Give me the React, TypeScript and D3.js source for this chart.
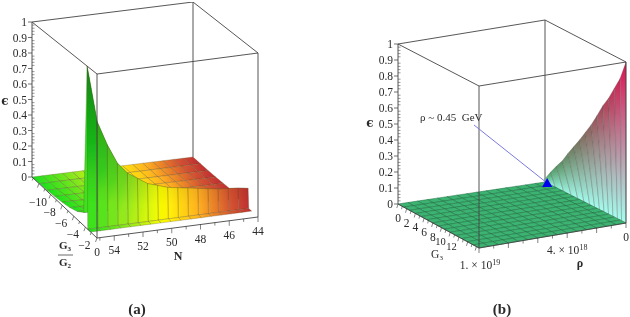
import React from "react";
import * as d3 from "d3";

// panel (a)
const epsTicks = [0, 0.1, 0.2, 0.3, 0.4, 0.5, 0.6, 0.7, 0.8, 0.9, 1];
const nTicks = [54, 52, 50, 48, 46, 44];
const gTicks = [-10, -8, -6, -4, -2, 0];
const nGrid = [55.2, 54.5, 53.8, 53.1, 52.4, 51.7, 51, 50.3, 49.6, 48.9, 48.2, 47.5, 46.8, 46.1, 45.4, 44.7, 44];
const wallEps = [1, 0.65, 0.5, 0.38, 0.31, 0.27, 0.23, 0.21, 0.19, 0.18, 0.17, 0.16, 0.15, 0.14, 0.135, 0.13, 0.12];
const floorFade = [1, 0.97, 0.93, 0.9, 0.87, 0.84, 0.8, 0.77, 0.74, 0.71, 0.68, 0.65, 0.62, 0.58, 0.55, 0.52, 0.5];
const flatRows = [-11.2, -9.9, -8.6, -7.3, -6, -4.7, -3.4, -2.3];
const flatLift = [0, 0.003, 0.006, 0.012, 0.02, 0.03, 0.05, 0.08];
const wallRow = -1.7;
const wallFoot = -1.6;
const stripEdge = -1.1;
const nColorStops = [55.2, 52.5, 50, 47.5, 45.5, 44];
const nColors = ["#1fe01f", "#8fe81f", "#ffff00", "#ffb020", "#d85a30", "#bf3030"];

// panel (b)
const g3Ticks = [0, 2, 4, 6, 8, 10, 12];
const g3Grid = [0, 1.33, 2.66, 3.99, 5.31, 6.64, 7.97, 9.3, 10.63, 11.96, 13.29, 14.61, 15.94, 17.27, 18.6];
const rhoGrid = [0, 0.67, 1.33, 2, 2.67, 3.33, 4, 4.67, 5.33, 6, 6.67, 7.33, 8, 8.67, 9.33, 10];
const edgeEps = [0.02, 0.08, 0.135, 0.185, 0.25, 0.31, 0.37, 0.435, 0.5, 0.575, 0.655, 0.72, 0.8, 0.88, 1];
const stripLean = [0, 1, 1.6, 2, 2.2, 2.3, 2.3, 2.1, 1.9, 1.6, 1.3, 1, 0.7, 0.3, 0];

type Pt = [number, number];
type Box = { near: Pt[]; far: Pt[] };

// corners in order: x0y0, x1y0, x1y1, x0y1, bottom in near, top in far
const boxA: Box = {
  near: [[32, 177], [97, 238], [258, 217], [193, 157]],
  far: [[32, 22], [97, 74], [258, 53], [193, 2]],
};
const boxB: Box = {
  near: [[398, 204], [479, 248], [626, 223], [545, 182]],
  far: [[398, 44], [479, 86], [626, 62], [545, 20]],
};

const lerp = (a: Pt, b: Pt, t: number): Pt => [a[0] + (b[0] - a[0]) * t, a[1] + (b[1] - a[1]) * t];

function projector(box: Box, sx: any, sy: any) {
  const sz = d3.scaleLinear().domain([0, 1]).range([0, 1]);
  return (x: number, y: number, z: number): Pt => {
    const u = sx(x), v = sy(y), w = sz(z);
    const bot = lerp(lerp(box.near[0], box.near[1], u), lerp(box.near[3], box.near[2], u), v);
    const top = lerp(lerp(box.far[0], box.far[1], u), lerp(box.far[3], box.far[2], u), v);
    return lerp(bot, top, w);
  };
}

const poly = d3.line<Pt>().curve(d3.curveLinearClosed);
const open = d3.line<Pt>();

const pA = projector(boxA, d3.scaleLinear().domain([-11.2, 0]).range([0, 1]), d3.scaleLinear().domain([55.2, 44]).range([0, 1]));
const pB = projector(boxB, d3.scaleLinear().domain([0, 18.6]).range([0, 1]), d3.scaleLinear().domain([10, 0]).range([0, 1]));

const nColor = d3.scaleLinear<string>().domain(nColorStops).range(nColors);
const edgeColor = d3.scaleLinear<string>().domain([0, 1]).range(["#3aa860", "#e01050"]);

const serif = "'Liberation Serif', serif";
const ink = "#2a2a2a";

function Tick({ from, to, w = 0.7 }: { from: Pt; to: Pt; w?: number }) {
  return <line x1={from[0]} y1={from[1]} x2={to[0]} y2={to[1]} stroke="#333" strokeWidth={w} />;
}

function Label({ at, children, anchor = "middle", size = 11.5, weight = "normal", family = serif }: any) {
  return (
    <text x={at[0]} y={at[1]} textAnchor={anchor} fontSize={size} fontWeight={weight} fontFamily={family} fill={ink} dominantBaseline="central">
      {children}
    </text>
  );
}

function BoxFrame({ box, part }: { box: Box; part: "back" | "front" }) {
  const { near, far } = box;
  const segs: Pt[][] =
    part === "back"
      ? [[near[3], far[3]], [far[0], far[3]], [far[3], far[2]]]
      : [[far[0], far[1]], [far[1], far[2]], [near[1], far[1]], [near[2], far[2]], [near[0], far[0]], [near[0], near[1]], [near[1], near[2]]];
  return (
    <g fill="none" stroke="#444" strokeWidth={0.9}>
      {segs.map((s, i) => <path key={i} d={open(s) as string} />)}
    </g>
  );
}

function EpsAxis({ box, lx }: { box: Box; lx: number }) {
  const base = box.near[0];
  const top = box.far[0];
  const minor = d3.range(0, 51).map((i) => i / 50);
  return (
    <g>
      {minor.map((t, i) => {
        const p = lerp(base, top, t);
        return <Tick key={i} from={p} to={[p[0] + (i % 5 === 0 ? 0 : 2.5), p[1]]} w={0.5} />;
      })}
      {epsTicks.map((t) => {
        const p = lerp(base, top, t);
        return (
          <g key={t}>
            <Tick from={p} to={[p[0] - 4, p[1]]} />
            <Label at={[lx, p[1]]} anchor="end">{t}</Label>
          </g>
        );
      })}
    </g>
  );
}

function PanelA() {
  const rows = [...flatRows, wallRow, wallFoot, stripEdge];
  const height = (r: number, c: number) => {
    if (r < flatRows.length) return flatLift[r] * floorFade[c];
    if (r === flatRows.length) return wallEps[c];
    return 0;
  };
  const cells: { id: string; pts: Pt[]; from: Pt; to: Pt; a: number; b: number; wall: boolean }[] = [];
  for (let r = 0; r < rows.length - 1; r++) {
    for (let c = nGrid.length - 2; c >= 0; c--) {
      const p00 = pA(rows[r], nGrid[c], height(r, c));
      const p01 = pA(rows[r], nGrid[c + 1], height(r, c + 1));
      const p11 = pA(rows[r + 1], nGrid[c + 1], height(r + 1, c + 1));
      const p10 = pA(rows[r + 1], nGrid[c], height(r + 1, c));
      cells.push({
        id: `ca${r}-${c}`,
        pts: [p00, p01, p11, p10],
        from: lerp(p00, p10, 0.5),
        to: lerp(p01, p11, 0.5),
        a: nGrid[c],
        b: nGrid[c + 1],
        wall: r === flatRows.length,
      });
    }
  }
  const nMinor = d3.range(44, 56);
  const gMinor = d3.range(-11, 1);
  return (
    <g>
      <defs>
        {cells.map((s) => (
          <linearGradient key={s.id} id={s.id} gradientUnits="userSpaceOnUse" x1={s.from[0]} y1={s.from[1]} x2={s.to[0]} y2={s.to[1]}>
            <stop offset="0" stopColor={nColor(s.a)} />
            <stop offset="1" stopColor={nColor(s.b)} />
          </linearGradient>
        ))}
        <linearGradient id="wallShade" gradientUnits="userSpaceOnUse" x1="0" y1="66" x2="0" y2="205">
          <stop offset="0" stopColor="#000" stopOpacity="0.42" />
          <stop offset="1" stopColor="#000" stopOpacity="0" />
        </linearGradient>
      </defs>
      <BoxFrame box={boxA} part="back" />
      {cells.map((s) => (
        <g key={s.id}>
          <path d={poly(s.pts) as string} fill={`url(#${s.id})`} stroke="#5a4a20" strokeOpacity={0.55} strokeWidth={0.5} />
          {s.wall && <path d={poly(s.pts) as string} fill="url(#wallShade)" />}
        </g>
      ))}
      <BoxFrame box={boxA} part="front" />
      <EpsAxis box={boxA} lx={27} />
      {nMinor.map((n) => {
        const p = pA(0, n, 0);
        return <Tick key={n} from={p} to={[p[0], p[1] + (n % 2 === 0 ? 5 : 3)]} w={0.6} />;
      })}
      {nTicks.map((n) => {
        const p = pA(0, n, 0);
        return <Label key={n} at={[p[0], p[1] + 14]}>{n}</Label>;
      })}
      {gMinor.map((g) => {
        const p = pA(g, 55.2, 0);
        const k = g % 2 === 0 ? 1 : 0.6;
        return <Tick key={g} from={p} to={[p[0] - 1.5 * k, p[1] + 4 * k]} w={0.6} />;
      })}
      {gTicks.map((g) => {
        const p = pA(g, 55.2, 0);
        return <Label key={g} at={[p[0] + (g === 0 ? 0 : -1), p[1] + (g === 0 ? 14 : 18)]}>{g === 0 ? "0" : `\u2212${-g}`}</Label>;
      })}
      <Label at={[178, 256]} size={12} weight="bold">N</Label>
      <Label at={[5, 101]} size={12} weight="bold" family="'DejaVu Serif', serif">{"\u03f5"}</Label>
      <text x={65} y={249} textAnchor="middle" fontSize={11} fontWeight="bold" fontFamily={serif} fill={ink}>
        G<tspan fontSize={7} dy={2}>3</tspan>
      </text>
      <line x1={58} x2={73} y1={255} y2={255} stroke={ink} strokeWidth={0.7} />
      <text x={65} y={266} textAnchor="middle" fontSize={11} fontWeight="bold" fontFamily={serif} fill={ink}>
        G<tspan fontSize={7} dy={2}>2</tspan>
      </text>
      <Label at={[137, 309]} size={15} weight="bold">(a)</Label>
    </g>
  );
}

function PanelB() {
  const flat: { id: string; pts: Pt[] }[] = [];
  for (let i = 0; i < g3Grid.length - 1; i++) {
    for (let j = 0; j < rhoGrid.length - 1; j++) {
      flat.push({
        id: `f${i}-${j}`,
        pts: [
          pB(g3Grid[i], rhoGrid[j], 0),
          pB(g3Grid[i + 1], rhoGrid[j], 0),
          pB(g3Grid[i + 1], rhoGrid[j + 1], 0),
          pB(g3Grid[i], rhoGrid[j + 1], 0),
        ],
      });
    }
  }
  const strips = d3.range(g3Grid.length - 1).map((i) => {
    const foot0 = pB(g3Grid[i] + stripLean[i], 0, 0);
    const foot1 = pB(g3Grid[i + 1] + stripLean[i + 1], 0, 0);
    const top0 = pB(g3Grid[i], 0, edgeEps[i]);
    const top1 = pB(g3Grid[i + 1], 0, edgeEps[i + 1]);
    return { i, pts: [foot0, top0, top1, foot1] as Pt[], top: top1, foot: foot1, e: edgeEps[i + 1] };
  });
  // wedge under the first strip, so the base of the surface stays closed
  const heel: Pt[] = [pB(0, 0, 0), pB(g3Grid[0], 0, edgeEps[0]), pB(g3Grid[1] + stripLean[1], 0, 0)];
  const tip = pB(0.5, 0, 0);
  const g3Minor = d3.range(0, 19);
  const rhoMinor = d3.range(0, 11);
  return (
    <g>
      <defs>
        {strips.map((s) => (
          <linearGradient key={s.i} id={`w${s.i}`} gradientUnits="userSpaceOnUse" x1={s.foot[0]} y1={s.foot[1]} x2={s.top[0]} y2={s.top[1]}>
            <stop offset="0" stopColor="#a4fff0" />
            <stop offset="1" stopColor={edgeColor(s.e)} />
          </linearGradient>
        ))}
      </defs>
      <BoxFrame box={boxB} part="back" />
      <path d={poly(heel) as string} fill="#8fdcc0" />
      {strips.map((s) => (
        <path key={s.i} d={poly(s.pts) as string} fill={`url(#w${s.i})`} stroke="#555" strokeOpacity={0.5} strokeWidth={0.6} />
      ))}
      {flat.map((c) => (
        <path key={c.id} d={poly(c.pts) as string} fill="#3cb371" stroke="#1c6b40" strokeWidth={0.5} />
      ))}
      <BoxFrame box={boxB} part="front" />
      <EpsAxis box={boxB} lx={393} />
      {g3Minor.map((g) => {
        const p = pB(g, 10, 0);
        const k = g % 2 === 0 ? 1 : 0.7;
        return <Tick key={g} from={p} to={[p[0] - 1.2 * k, p[1] + 4 * k]} w={0.6} />;
      })}
      {g3Ticks.map((g) => {
        const p = pB(g, 10, 0);
        const nudge = g === 10 ? -1 : g === 12 ? 1.2 : 0;
        return <Label key={g} size={g >= 10 ? 10.5 : 11.5} at={[p[0] + nudge, p[1] + 14]}>{g}</Label>;
      })}
      {rhoMinor.map((r) => {
        const p = pB(18.6, r, 0);
        return <Tick key={r} from={p} to={[p[0], p[1] + (r % 2 === 0 ? 5 : 3)]} w={0.6} />;
      })}
      <text x={pB(18.6, 4, 0)[0]} y={pB(18.6, 4, 0)[1] + 21} textAnchor="middle" fontSize={11.5} fontFamily={serif} fill={ink}>
        4. × 10<tspan fontSize={8} dy={-4}>18</tspan>
      </text>
      <Label at={[626, 237]}>0</Label>
      <text x={480} y={269} textAnchor="middle" fontSize={11.5} fontFamily={serif} fill={ink}>
        1. × 10<tspan fontSize={8} dy={-4}>19</tspan>
      </text>
      <text x={437} y={258} textAnchor="middle" fontSize={11.5} fontFamily={serif} fill={ink}>
        G<tspan fontSize={7} dy={2}>3</tspan>
      </text>
      <Label at={[580, 263]} size={12} weight="bold">ρ</Label>
      <Label at={[370, 123]} size={12} weight="bold" family="'DejaVu Serif', serif">{"\u03f5"}</Label>
      <text x={420} y={121} fontSize={11} fontFamily={serif} fill={ink}>ρ ~ 0.45{"\u00a0\u00a0"}GeV</text>
      <line x1={474} y1={125} x2={tip[0]} y2={tip[1]} stroke="#7a7ae0" strokeWidth={1} />
      <path d={poly([[tip[0] - 5, tip[1] + 4], [tip[0] + 5, tip[1] + 4], [tip[0], tip[1] - 5]]) as string} fill="#0000f0" />
      <Label at={[502, 309]} size={15} weight="bold">(b)</Label>
    </g>
  );
}

export default function App() {
  return (
    <svg width={630} height={317} viewBox="0 0 630 317" style={{ position: "absolute", left: 0, top: 0, background: "#fff" }}>
      <defs>
        <filter id="soft" x="0" y="0" width="100%" height="100%">
          <feGaussianBlur stdDeviation="0.45" />
        </filter>
      </defs>
      <g filter="url(#soft)">
        <PanelA />
        <PanelB />
      </g>
    </svg>
  );
}
